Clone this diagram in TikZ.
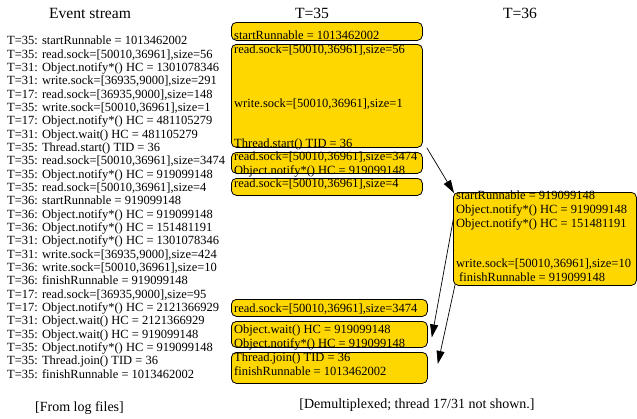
\documentclass[tikz,border=0pt]{standalone}
\usepackage{fontspec}
\setmainfont{Liberation Serif}
\usepackage{tikz}
\usetikzlibrary{arrows.meta, calc}
\definecolor{boxgold}{RGB}{255,215,0}
\tikzset{>={Triangle[length=13pt,width=8pt]}}
\tikzset{
  evbox/.style={draw, rounded corners=5pt, fill=boxgold, line width=0.8pt, anchor=north west, inner sep=0pt},
  evtext/.style={anchor=north west, align=left, inner sep=0pt, font=\fontsize{12.5}{14}\selectfont},
  logtext/.style={anchor=north west, align=left, inner sep=0pt, font=\fontsize{12.5}{13.33}\selectfont},
  headtext/.style={font=\fontsize{15.6}{18}\selectfont},
  notetext/.style={font=\fontsize{14}{16}\selectfont}
}

\begin{document}
\begin{tikzpicture}[x=1pt, y=-1pt]
    \useasboundingbox (0,0) rectangle (637,418);
    \node[headtext] (evhead) at (90, 13) {Event stream};
    \node[headtext] (t35head) at (312, 13) {T=35};
    \node[headtext] (t36head) at (520, 13) {T=36};
    \node[logtext] (log) at (7, 36) {T=35: startRunnable = 1013462002\\
      T=35: read.sock=[50010,36961],size=56\\
      T=31: Object.notify*() HC = 1301078346\\
      T=31: write.sock=[36935,9000],size=291\\
      T=17: read.sock=[36935,9000],size=148\\
      T=35: write.sock=[50010,36961],size=1\\
      T=17: Object.notify*() HC = 481105279\\
      T=31: Object.wait() HC = 481105279\\
      T=35: Thread.start() TID = 36\\
      T=35: read.sock=[50010,36961],size=3474\\
      T=35: Object.notify*() HC = 919099148\\
      T=35: read.sock=[50010,36961],size=4\\
      T=36: startRunnable = 919099148\\
      T=36: Object.notify*() HC = 919099148\\
      T=36: Object.notify*() HC = 151481191\\
      T=31: Object.notify*() HC = 1301078346\\
      T=31: write.sock=[36935,9000],size=424\\
      T=36: write.sock=[50010,36961],size=10\\
      T=36: finishRunnable = 919099148\\
      T=17: read.sock=[36935,9000],size=95\\
      T=17: Object.notify*() HC = 2121366929\\
      T=31: Object.wait() HC = 2121366929\\
      T=35: Object.wait() HC = 919099148\\
      T=35: Object.notify*() HC = 919099148\\
      T=35: Thread.join() TID = 36\\
      T=35: finishRunnable = 1013462002};

    \node[evbox, minimum width=191pt, minimum height=18pt] (b1) at (231, 22) {};
    \node[evtext] (b1txt) at (234, 30.5) {startRunnable = 1013462002};
    \node[evbox, minimum width=191pt, minimum height=103pt] (b2) at (231, 44) {};
    \node[evtext] (b2txt) at (234, 44.5) {read.sock=[50010,36961],size=56\\[40pt]
      write.sock=[50010,36961],size=1\\[26pt]
      Thread.start() TID = 36};
    \node[evbox, minimum width=191pt, minimum height=21pt] (b3) at (231, 152) {};
    \node[evtext] (b3txt) at (234, 151.5) {read.sock=[50010,36961],size=3474\\
      Object.notify*() HC = 919099148};
    \node[evbox, minimum width=191pt, minimum height=17pt] (b4) at (231, 178) {};
    \node[evtext] (b4txt) at (234, 178.5) {read.sock=[50010,36961],size=4};

    \node[evbox, minimum width=196pt, minimum height=17pt] (b5) at (231, 299) {};
    \node[evtext] (b5txt) at (234, 303.5) {read.sock=[50010,36961],size=3474};
    \node[evbox, minimum width=196pt, minimum height=26pt] (b6) at (231, 321) {};
    \node[evtext] (b6txt) at (234, 324.5) {Object.wait() HC = 919099148\\
      Object.notify*() HC = 919099148};
    \node[evbox, minimum width=196pt, minimum height=31pt] (b7) at (231, 352) {};
    \node[evtext] (b7txt) at (234, 352.5) {Thread.join() TID = 36\\
      finishRunnable = 1013462002};

    \draw[->, line width=0.7pt] ($(b2.south east)+(4,0)$) -- (454, 193) coordinate (a1end);
    \draw[->, line width=0.7pt] (455, 210) coordinate (a2start) -- ($(b6.east)+(4,3)$);
    \draw[->, line width=0.7pt] (455, 285) coordinate (a3start) -- ($(b7.east)+(10,-4)$);

    \node[evbox, minimum width=183pt, minimum height=93pt] (t36) at (453, 192) {};
    \node[evtext] (t36txt) at (456, 190.5) {startRunnable = 919099148\\
      Object.notify*() HC = 919099148\\
      Object.notify*() HC = 151481191\\[26pt]
      write.sock=[50010,36961],size=10\\
      \hspace{3pt}finishRunnable = 919099148};

    \node[notetext] (lognote) at (79.5, 408) {[From log files]};
    \node[notetext] (demuxnote) at (417, 405) {[Demultiplexed; thread 17/31 not shown.]};
  \end{tikzpicture}
\end{document}
